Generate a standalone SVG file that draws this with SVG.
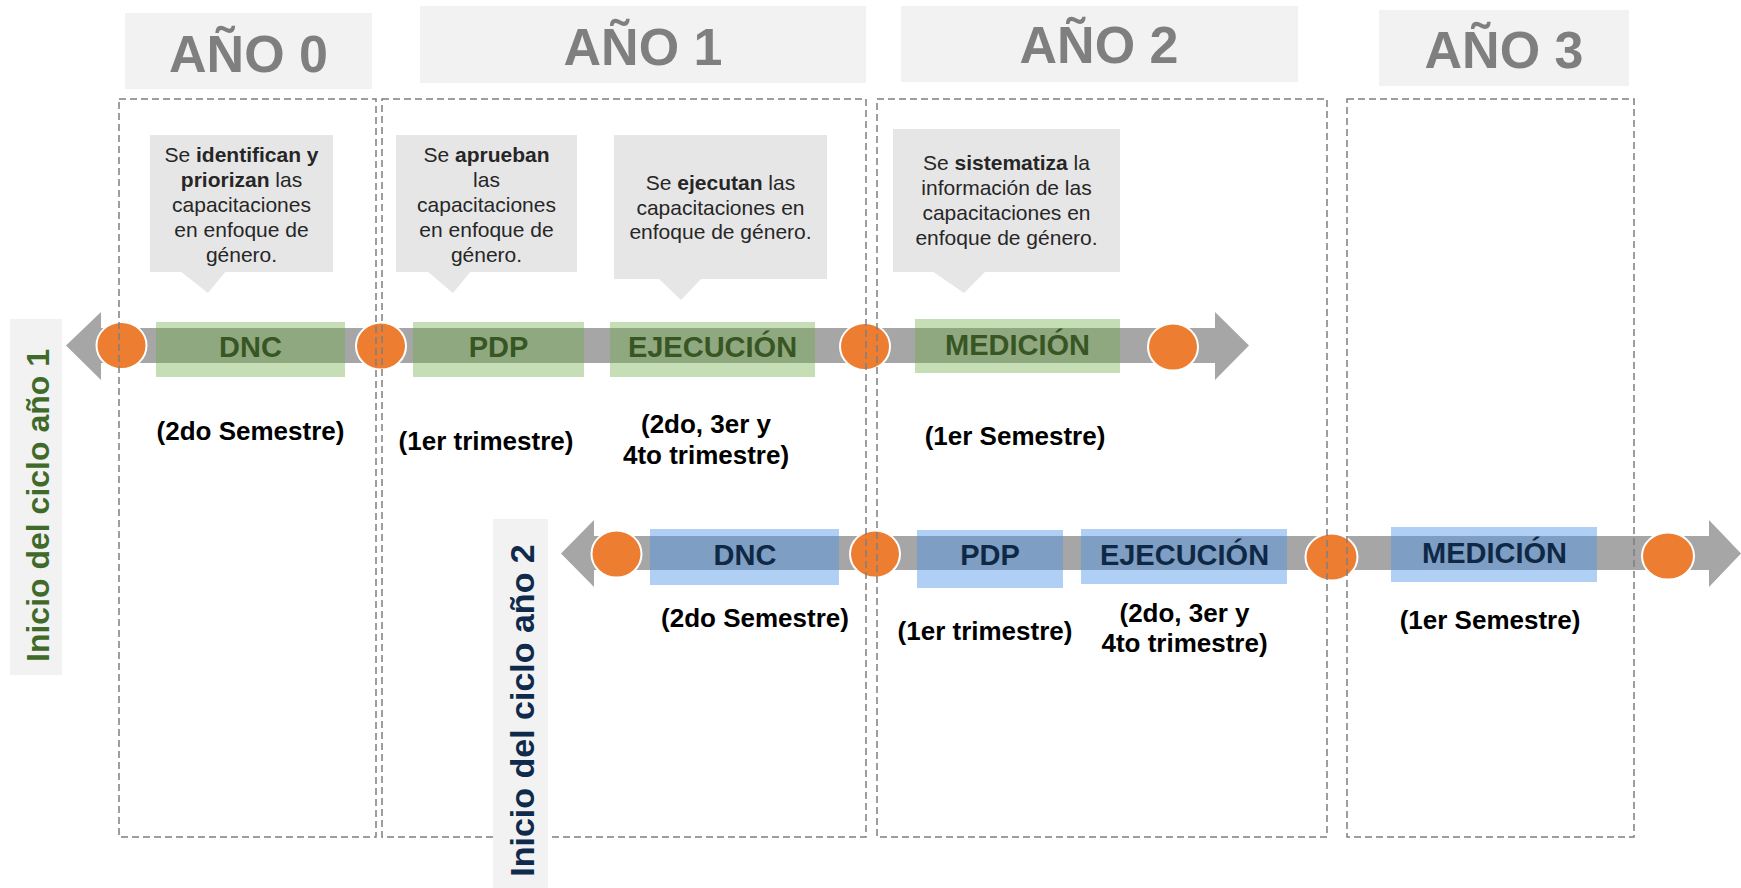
<svg xmlns="http://www.w3.org/2000/svg" width="1741" height="888" viewBox="0 0 1741 888">
<style>
.hdr{fill:#f2f2f2}
.hdrt{font-family:"Liberation Sans",Arial,sans-serif;font-weight:bold;font-size:52px;fill:#7f7f7f;text-anchor:middle}
.call{fill:#e7e6e6}
.ct{font-family:"Liberation Sans",Arial,sans-serif;font-size:21px;fill:#262626;text-anchor:middle}
.b{font-weight:bold}
.shaft{fill:#a6a6a6}
.gbox{fill:#70ad47;fill-opacity:0.4}
.bbox{fill:#4e95e7;fill-opacity:0.45}
.gt{font-family:"Liberation Sans",Arial,sans-serif;font-weight:bold;font-size:29px;fill:#375623;text-anchor:middle}
.bt{font-family:"Liberation Sans",Arial,sans-serif;font-weight:bold;font-size:29px;fill:#0f2846;text-anchor:middle}
.dot{fill:#ed7d31;stroke:#ffffff;stroke-width:2}
.lab{font-family:"Liberation Sans",Arial,sans-serif;font-weight:bold;font-size:26px;fill:#000000;text-anchor:middle}
.dash{fill:none;stroke:#7f7f7f;stroke-width:1.5;stroke-dasharray:7 4}
.vbox{fill:#f2f2f2}
.v1{font-family:"Liberation Sans",Arial,sans-serif;font-weight:bold;font-size:32px;fill:#3f6a2a;text-anchor:middle}
.v2{font-family:"Liberation Sans",Arial,sans-serif;font-weight:bold;font-size:34px;fill:#0f2a4b;text-anchor:middle}
</style>

<g id="headers">
  <g id="ano0"><rect class="hdr" x="125" y="13" width="247" height="76"/><text class="hdrt" x="248.5" y="72">AÑO 0</text></g>
  <g id="ano1"><rect class="hdr" x="420" y="6" width="446" height="77"/><text class="hdrt" x="643" y="65">AÑO 1</text></g>
  <g id="ano2"><rect class="hdr" x="901" y="6" width="397" height="76"/><text class="hdrt" x="1099" y="63">AÑO 2</text></g>
  <g id="ano3"><rect class="hdr" x="1379" y="10" width="250" height="76"/><text class="hdrt" x="1504" y="68">AÑO 3</text></g>
</g>

<g id="callouts">
  <g id="callout-identifican">
    <rect class="call" x="150" y="135" width="183" height="137"/>
    <polygon class="call" points="180,271 226,271 208,293"/>
    <text class="ct" x="241.5" y="162"><tspan>Se </tspan><tspan class="b">identifican y</tspan></text>
    <text class="ct" x="241.5" y="187"><tspan class="b">priorizan</tspan><tspan> las</tspan></text>
    <text class="ct" x="241.5" y="212">capacitaciones</text>
    <text class="ct" x="241.5" y="237">en enfoque de</text>
    <text class="ct" x="241.5" y="262">género.</text>
  </g>
  <g id="callout-aprueban">
    <rect class="call" x="396" y="135" width="181" height="137"/>
    <polygon class="call" points="427,271 471,271 453,293"/>
    <text class="ct" x="486.5" y="162"><tspan>Se </tspan><tspan class="b">aprueban</tspan></text>
    <text class="ct" x="486.5" y="187">las</text>
    <text class="ct" x="486.5" y="212">capacitaciones</text>
    <text class="ct" x="486.5" y="237">en enfoque de</text>
    <text class="ct" x="486.5" y="262">género.</text>
  </g>
  <g id="callout-ejecutan">
    <rect class="call" x="614" y="135" width="213" height="144"/>
    <polygon class="call" points="658,278 702,278 681,300"/>
    <text class="ct" x="720.5" y="190"><tspan>Se </tspan><tspan class="b">ejecutan</tspan><tspan> las</tspan></text>
    <text class="ct" x="720.5" y="215">capacitaciones en</text>
    <text class="ct" x="720.5" y="239">enfoque de género.</text>
  </g>
  <g id="callout-sistematiza">
    <rect class="call" x="893" y="129" width="227" height="143"/>
    <polygon class="call" points="932,271 986,271 964,293"/>
    <text class="ct" x="1006.5" y="170"><tspan>Se </tspan><tspan class="b">sistematiza</tspan><tspan> la</tspan></text>
    <text class="ct" x="1006.5" y="195">información de las</text>
    <text class="ct" x="1006.5" y="220">capacitaciones en</text>
    <text class="ct" x="1006.5" y="245">enfoque de género.</text>
  </g>
</g>

<g id="connectors">
  <polygon id="timeline1" class="shaft" points="66,345.5 101,312 101,328 1215,328 1215,312 1249,345.5 1215,380 1215,363 101,363 101,380"/>
  <polygon id="timeline2" class="shaft" points="561,553.5 594,520 594,536 1709,536 1709,520 1741,553.5 1709,587 1709,570 594,570 594,587"/>
</g>

<g id="cycle1">
  <g id="c1-dnc"><rect class="gbox" x="156" y="322" width="189" height="55"/><text class="gt" x="250.5" y="357">DNC</text></g>
  <g id="c1-pdp"><rect class="gbox" x="413" y="322" width="171" height="55"/><text class="gt" x="498.5" y="357">PDP</text></g>
  <g id="c1-ejec"><rect class="gbox" x="610" y="322" width="205" height="55"/><text class="gt" x="712.5" y="357">EJECUCIÓN</text></g>
  <g id="c1-med"><rect class="gbox" x="915" y="319" width="205" height="54"/><text class="gt" x="1017.5" y="355">MEDICIÓN</text></g>
  <ellipse class="dot" cx="121.5" cy="345.5" rx="25" ry="23.5"/>
  <ellipse class="dot" cx="381" cy="346" rx="25" ry="23.5"/>
  <ellipse class="dot" cx="865" cy="346.5" rx="25" ry="23.5"/>
  <ellipse class="dot" cx="1173" cy="347" rx="25" ry="23.5"/>
  <text class="lab" x="250.5" y="440">(2do Semestre)</text>
  <text class="lab" x="486" y="450">(1er trimestre)</text>
  <text class="lab" x="706" y="433">(2do, 3er y</text>
  <text class="lab" x="706" y="464">4to trimestre)</text>
  <text class="lab" x="1015" y="445">(1er Semestre)</text>
</g>

<g id="cycle2">
  <g id="c2-dnc"><rect class="bbox" x="650" y="529" width="189" height="56"/><text class="bt" x="745" y="565">DNC</text></g>
  <g id="c2-pdp"><rect class="bbox" x="917" y="530" width="146" height="58"/><text class="bt" x="990" y="565">PDP</text></g>
  <g id="c2-ejec"><rect class="bbox" x="1081" y="529" width="206" height="55"/><text class="bt" x="1184.5" y="565">EJECUCIÓN</text></g>
  <g id="c2-med"><rect class="bbox" x="1391" y="527" width="206" height="55"/><text class="bt" x="1494.5" y="563">MEDICIÓN</text></g>
  <ellipse class="dot" cx="616.5" cy="554" rx="25" ry="23.5"/>
  <ellipse class="dot" cx="875" cy="554" rx="25" ry="23.5"/>
  <ellipse class="dot" cx="1331.5" cy="557" rx="26" ry="23.5"/>
  <ellipse class="dot" cx="1668" cy="556" rx="26" ry="23.5"/>
  <text class="lab" x="755" y="627">(2do Semestre)</text>
  <text class="lab" x="985" y="640">(1er trimestre)</text>
  <text class="lab" x="1184.5" y="622">(2do, 3er y</text>
  <text class="lab" x="1184.5" y="652">4to trimestre)</text>
  <text class="lab" x="1490" y="629">(1er Semestre)</text>
</g>

<g id="year-frames">
  <rect class="dash" x="119" y="99" width="257" height="738"/>
  <rect class="dash" x="382" y="99" width="484" height="738"/>
  <rect class="dash" x="877" y="99" width="450" height="738"/>
  <rect class="dash" x="1347" y="99" width="287" height="738"/>
</g>

<g id="label-ciclo1">
  <rect class="vbox" x="10" y="319" width="52" height="356"/>
  <text class="v1" transform="translate(48.5,505.5) rotate(-90)">Inicio del ciclo año 1</text>
</g>
<g id="label-ciclo2">
  <rect class="vbox" x="493" y="519" width="55" height="369"/>
  <text class="v2" transform="translate(534,710.5) rotate(-90)">Inicio del ciclo año 2</text>
</g>
</svg>
